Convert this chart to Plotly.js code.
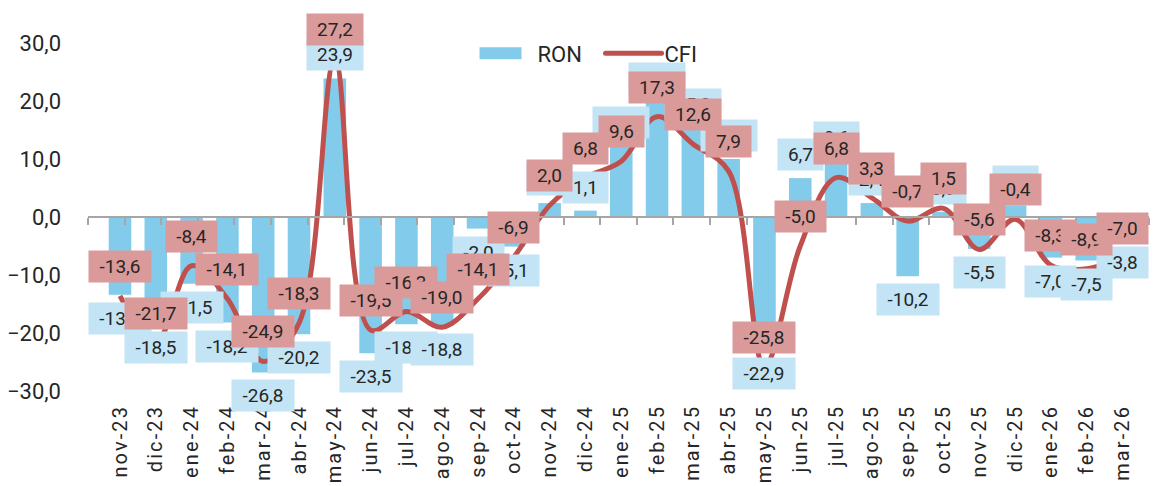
<!DOCTYPE html>
<html>
<head>
<meta charset="utf-8">
<script src="https://cdn.plot.ly/plotly-3.0.1.min.js"></script>
<style>
html,body{margin:0;padding:0;background:#fff;}
#chart{width:1154px;height:486px;}
.xtick text{letter-spacing:2.1px;}
</style>
</head>
<body>
<div id="chart"></div>
<script>
const months = ["nov-23","dic-23","ene-24","feb-24","mar-24","abr-24","may-24","jun-24","jul-24","ago-24","sep-24","oct-24",
  "nov-24","dic-24","ene-25","feb-25","mar-25","abr-25","may-25","jun-25","jul-25","ago-25","sep-25","oct-25",
  "nov-25","dic-25","ene-26","feb-26","mar-26"];
const ron = [-13.4,-18.5,-11.5,-18.2,-26.8,-20.2,23.9,-23.5,-18.5,-18.8,-2.0,-5.1,
  2.4,1.1,12.3,19.8,15.3,10.0,-22.9,6.7,9.6,2.4,-10.2,0.9,
  -5.5,2.0,-7.0,-7.5,-3.8];
const cfi = [-13.6,-21.7,-8.4,-14.1,-24.9,-18.3,27.2,-19.5,-16.3,-19.0,-14.1,-6.9,
  2.0,6.8,9.6,17.3,12.6,7.9,-25.8,-5.0,6.8,3.3,-0.7,1.5,
  -5.6,-0.4,-8.3,-8.9,-7.0];
const yTicks = [-30,-20,-10,0,10,20,30];

const FONT = "Roboto, 'Noto Sans', sans-serif";
const TXT = "#262626";
const BAR = "#82CBEA";
const LINE = "#C0504D";
const RON_BG = "#C2E4F4";
const CFI_BG = "#DA9A99";

function fmt(v){ return v.toFixed(1).replace('.', ','); }
function textW(s, size){
  let w = 0;
  for (const c of s){
    if (c === ',') w += 0.2; else if (c === '-') w += 0.3; else w += 0.562;
  }
  return w * size;
}
const LBL = 19;

const annotations = [];
ron.forEach((v, i) => {
  const t = fmt(v);
  annotations.push({
    x: months[i], y: v, xref: 'x', yref: 'y', text: t, showarrow: false,
    yanchor: v >= 0 ? 'bottom' : 'top', yshift: v >= 0 ? 7 : -7,
    bgcolor: RON_BG, borderpad: 4, width: Math.round(textW(t, LBL) + 12), height: 23,
    font: {family: FONT, size: LBL, color: TXT}
  });
});
cfi.forEach((v, i) => {
  const t = fmt(v);
  annotations.push({
    x: months[i], y: v, xref: 'x', yref: 'y', text: t, showarrow: false,
    yanchor: 'bottom', yshift: 13,
    bgcolor: CFI_BG, borderpad: 4, width: Math.round(textW(t, LBL) + 12), height: 23,
    font: {family: FONT, size: LBL, color: TXT}
  });
});

const traces = [
  {type: 'bar', name: 'RON', x: months, y: ron, marker: {color: BAR}, hoverinfo: 'skip'},
  {type: 'scatter', mode: 'lines', name: 'CFI', x: months, y: cfi,
   line: {color: LINE, width: 5, shape: 'spline', smoothing: 1}, hoverinfo: 'skip', cliponaxis: false},
  {type: 'scatter', mode: 'none', x: months.map((_, i) => i), y: ron, xaxis: 'x2',
   showlegend: false, hoverinfo: 'skip'}
];

const layout = {
  width: 1154, height: 486,
  margin: {l: 88, r: 5, t: 43, b: 95},
  paper_bgcolor: '#fff', plot_bgcolor: '#fff',
  separators: ',.',
  bargap: 0.37,
  showlegend: true,
  legend: {orientation: 'h', x: 0.386, xanchor: 'left', y: 0.97, yanchor: 'middle',
    font: {family: FONT, size: 22, color: TXT}, bgcolor: 'rgba(0,0,0,0)', entrywidth: 82},
  xaxis: {type: 'category', showline: false, ticks: '', showgrid: false, zeroline: false,
    tickangle: -90, tickfont: {family: FONT, size: 20, color: TXT}, ticklabelstandoff: 9},
  xaxis2: {type: 'linear', overlaying: 'x', anchor: 'free', position: 0.5, side: 'bottom',
    range: [-0.5, months.length - 0.5],
    tickmode: 'array', tickvals: months.map((_, i) => i - 0.5).concat([months.length - 0.5]),
    showticklabels: false, ticks: 'outside', ticklen: 7, tickwidth: 2, tickcolor: '#A6A6A6',
    showline: true, linecolor: '#A6A6A6', linewidth: 2, showgrid: false, zeroline: false, layer: 'above traces'},
  yaxis: {range: [-30, 30], tickmode: 'array', tickvals: yTicks, tickformat: '.1f',
    showgrid: false, zeroline: false, showline: false, ticks: '', ticklabelstandoff: 26,
    tickfont: {family: FONT, size: 22, color: TXT}},
  annotations: annotations
};

Plotly.newPlot('chart', traces, layout, {displayModeBar: false, staticPlot: true}).then(gd => {
  // let the legend keys extend beyond the legend box, and widen them like the reference keys
  gd.querySelectorAll('.legend [clip-path]').forEach(el => el.removeAttribute('clip-path'));
  const items = gd.querySelectorAll('.legend .traces');
  items.forEach((it, k) => {
    if (k === 0) {
      it.querySelectorAll('.legendpoints path').forEach(p => p.setAttribute('d', 'M-38,-6h42v12h-42Z'));
    } else {
      it.querySelectorAll('.legendlines path').forEach(p => {
        p.setAttribute('d', 'M-19,0h56'); p.style.strokeLinecap = 'round';
      });
    }
  });
});
</script>
</body>
</html>
